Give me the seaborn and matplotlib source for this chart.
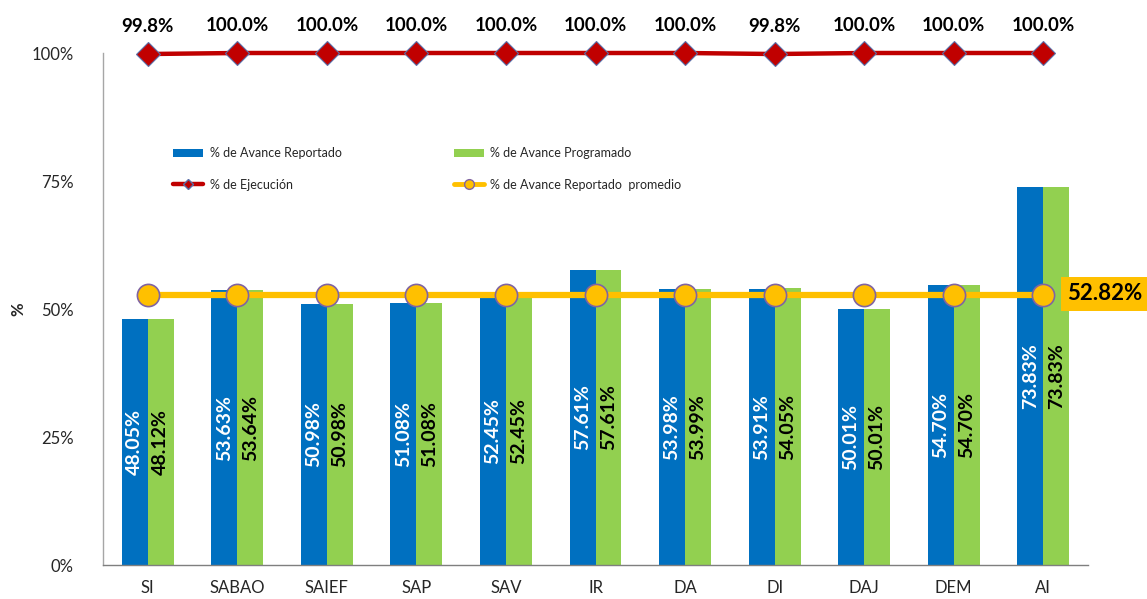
import numpy as np
import pandas as pd
import matplotlib
matplotlib.use("Agg")
import matplotlib.pyplot as plt
import seaborn as sns
from matplotlib.lines import Line2D
from matplotlib.patches import Patch

categories = ["SI", "SABAO", "SAIEF", "SAP", "SAV", "IR", "DA", "DI", "DAJ", "DEM", "AI"]
avance_reportado = [48.05, 53.63, 50.98, 51.08, 52.45, 57.61, 53.98, 53.91, 50.01, 54.70, 73.83]
avance_programado = [48.12, 53.64, 50.98, 51.08, 52.45, 57.61, 53.99, 54.05, 50.01, 54.70, 73.83]
ejecucion = [99.8, 100.0, 100.0, 100.0, 100.0, 100.0, 100.0, 99.8, 100.0, 100.0, 100.0]
promedio = 52.82
yticks = [0, 25, 50, 75, 100]

s_rep = "% de Avance Reportado"
s_prog = "% de Avance Programado"
s_ejec = "% de Ejecución"
s_prom = "% de Avance Reportado  promedio"

BLUE = "#0070C0"
GREEN = "#92D050"
RED = "#C00000"
YELLOW = "#FFC000"
PURPLE = "#8064A2"

sns.set_theme(style="white")
plt.rcParams["font.family"] = ["Lato", "DejaVu Sans"]

df = pd.DataFrame({
    "cat": categories * 2,
    "serie": [s_rep] * len(categories) + [s_prog] * len(categories),
    "val": avance_reportado + avance_programado,
})

fig = plt.figure(figsize=(11.47, 5.99), dpi=100)
ax = fig.add_axes([103 / 1147, 1 - 565 / 599, (1088 - 103) / 1147, (565 - 53) / 599])

sns.barplot(data=df, x="cat", y="val", hue="serie", palette=[BLUE, GREEN],
            width=0.58, gap=0, ax=ax, legend=False, saturation=1, zorder=2,
            linewidth=0, edgecolor="none")

x = np.arange(len(categories))
# bar labels
for cont, col in zip(ax.containers, ["white", "black"]):
    for rect in cont:
        h = rect.get_height()
        ax.text(rect.get_x() + rect.get_width() / 2, h / 2, f"{h:.2f}%",
                rotation=90, ha="center", va="center", color=col,
                fontsize=14, fontweight="bold", zorder=5)

# execution line
ax.plot(x, ejecucion, color=RED, lw=3.2, marker="D", markersize=12,
        markerfacecolor=RED, markeredgecolor="#5A6FA8", markeredgewidth=0.8,
        clip_on=False, zorder=6)
for xi, v in zip(x, ejecucion):
    ax.text(xi, v + 3.8, f"{v:.1f}%", ha="center", va="bottom",
            fontsize=13.5, fontweight="bold", color="black", clip_on=False)

# average line
ax.plot(x, [promedio] * len(x), color=YELLOW, lw=4.5, marker="o", markersize=16,
        markerfacecolor=YELLOW, markeredgecolor=PURPLE, markeredgewidth=1.2,
        clip_on=False, zorder=7)
ax.text(1105 / 1147, 1 - 294 / 599, f"{promedio:.2f}%", transform=fig.transFigure,
        ha="center", va="center", fontsize=16, fontweight="bold", color="black",
        bbox=dict(boxstyle="square,pad=0.3", facecolor=YELLOW, edgecolor="none"))

ax.set_xlim(-0.5, len(categories) - 0.5)
ax.set_ylim(0, 100)
ax.set_yticks(yticks)
ax.set_yticklabels([f"{t}%" for t in yticks], fontsize=12)
ax.tick_params(axis="x", labelsize=12, pad=11, length=0)
ax.tick_params(axis="y", length=0, pad=21)
ax.set_xlabel("")
ax.set_ylabel("%", fontsize=12, fontweight="bold", labelpad=4)

for s in ["top", "right"]:
    ax.spines[s].set_visible(False)
ax.spines["left"].set_color("#A6A6A6")
ax.spines["bottom"].set_color("#7F7F7F")
ax.spines["left"].set_linewidth(1.0)
ax.spines["bottom"].set_linewidth(1.0)

handles = [
    Patch(facecolor=BLUE, edgecolor="none"),
    Line2D([], [], color=RED, lw=3.2, marker="D", markersize=5,
           markerfacecolor=RED, markeredgecolor="#5A6FA8"),
    Patch(facecolor=GREEN, edgecolor="none"),
    Line2D([], [], color=YELLOW, lw=3.5, marker="o", markersize=7,
           markerfacecolor=YELLOW, markeredgecolor=PURPLE),
]
labels = [s_rep, s_ejec, s_prog, s_prom]
ax.legend(handles, labels, ncol=2, frameon=False, fontsize=9,
          loc="upper left", bbox_to_anchor=(162 / 1147, 1 - 136 / 599),
          bbox_transform=fig.transFigure, handlelength=2.4, handleheight=0.7,
          handletextpad=0.5, columnspacing=9.0, labelspacing=1.55)

fig.savefig("out.png", dpi=100)
